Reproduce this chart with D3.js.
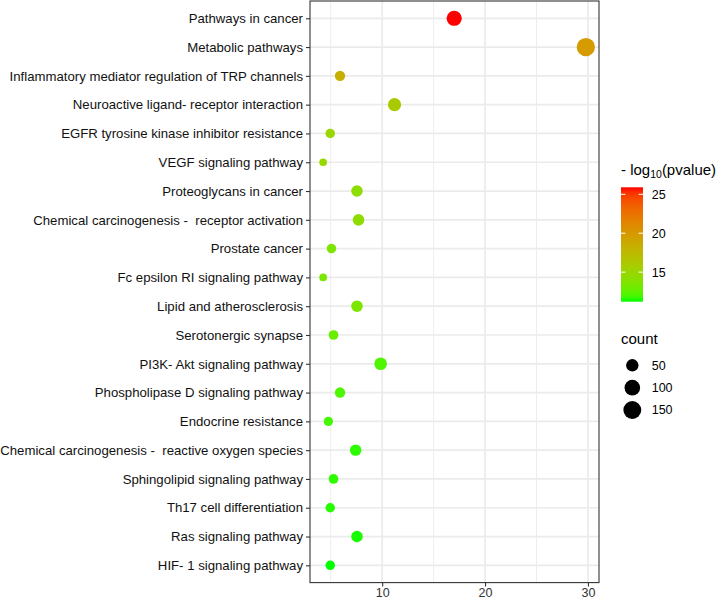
<!DOCTYPE html>
<html>
<head>
<meta charset="utf-8">
<script src="https://cdn.jsdelivr.net/npm/d3@7"></script>
<style>
  body { margin: 0; background: #fff; }
  svg { display: block; font-family: "Liberation Sans", Arial, sans-serif; }
  .ylab text { white-space: pre; }
</style>
</head>
<body>
<svg id="chart" width="720" height="599"></svg>
<script>
const pathways = [
  "Pathways in cancer",
  "Metabolic pathways",
  "Inflammatory mediator regulation of TRP channels",
  "Neuroactive ligand- receptor interaction",
  "EGFR tyrosine kinase inhibitor resistance",
  "VEGF signaling pathway",
  "Proteoglycans in cancer",
  "Chemical carcinogenesis -  receptor activation",
  "Prostate cancer",
  "Fc epsilon RI signaling pathway",
  "Lipid and atherosclerosis",
  "Serotonergic synapse",
  "PI3K- Akt signaling pathway",
  "Phospholipase D signaling pathway",
  "Endocrine resistance",
  "Chemical carcinogenesis -  reactive oxygen species",
  "Sphingolipid signaling pathway",
  "Th17 cell differentiation",
  "Ras signaling pathway",
  "HIF- 1 signaling pathway"
];
const ratio = [17.0, 29.8, 5.9, 11.2, 4.95, 4.26, 7.55, 7.7, 5.07, 4.26,
               7.55, 5.27, 9.85, 5.9, 4.77, 7.42, 5.27, 4.95, 7.55, 4.95];
const counts = [92, 161, 32, 60, 27, 23, 41, 42, 27, 23,
                41, 28, 53, 32, 26, 40, 28, 27, 41, 27];
const logp = [25.9, 19.8, 18.3, 16.0, 15.0, 14.8, 14.3, 14.3, 13.6, 13.4,
              13.5, 12.8, 12.1, 12.0, 11.8, 11.5, 11.5, 11.4, 11.3, 11.2];
const xTicks = [10, 20, 30];
const xMinor = [5, 15, 25];
const colorTicks = [15, 20, 25];
const sizeBreaks = [50, 100, 150];

const data = pathways.map((name, i) => ({name, x: ratio[i], count: counts[i], p: logp[i]}));

const panel = {left: 310, right: 599, top: 1, bottom: 582.6};

const svg = d3.select("#chart");

// ggplot-style 5% expansion on x
const [xlo, xhi] = d3.extent(ratio);
const pad = (xhi - xlo) * 0.05;
const x = d3.scaleLinear().domain([xlo - pad, xhi + pad]).range([panel.left, panel.right]);
const y = d3.scalePoint().domain(pathways).range([panel.top, panel.bottom]).padding(0.6);

const color = d3.scaleLinear().domain(d3.extent(logp))
  .range(["#00ff00", "#ff0000"]).interpolate(d3.interpolateLab);

// area scale like scale_size: diameter from sqrt of rescaled count
const sizeT = d3.scaleLinear().domain(d3.extent(counts)).range([0, 1]);
const diam = d3.scaleLinear().domain([0, 1]).range([7.7, 18.3]);
const radius = c => diam(Math.sqrt(Math.max(0, sizeT(c)))) / 2;

// grid
const grid = svg.append("g");
grid.selectAll(".minor").data(xMinor).enter().append("line")
  .attr("x1", d => x(d)).attr("x2", d => x(d))
  .attr("y1", panel.top).attr("y2", panel.bottom)
  .attr("stroke", "#ebebeb").attr("stroke-width", 0.9);
grid.selectAll(".major").data(xTicks).enter().append("line")
  .attr("x1", d => x(d)).attr("x2", d => x(d))
  .attr("y1", panel.top).attr("y2", panel.bottom)
  .attr("stroke", "#ebebeb").attr("stroke-width", 1.7);
grid.selectAll(".hz").data(pathways).enter().append("line")
  .attr("x1", panel.left).attr("x2", panel.right)
  .attr("y1", d => y(d)).attr("y2", d => y(d))
  .attr("stroke", "#ebebeb").attr("stroke-width", 1.7);

// points
svg.append("g").selectAll("circle").data(data).enter().append("circle")
  .attr("cx", d => x(d.x)).attr("cy", d => y(d.name))
  .attr("r", d => radius(d.count))
  .attr("fill", d => color(d.p));

// panel border
svg.append("rect")
  .attr("x", panel.left).attr("y", panel.top)
  .attr("width", panel.right - panel.left).attr("height", panel.bottom - panel.top)
  .attr("fill", "none").attr("stroke", "#333").attr("stroke-width", 1.1);

// y axis
const yAxis = svg.append("g").attr("class", "ylab").attr("transform", `translate(${panel.left},0)`)
  .call(d3.axisLeft(y).tickSize(4).tickPadding(3));
yAxis.select(".domain").remove();
yAxis.selectAll("line").attr("stroke", "#333").attr("stroke-width", 1.1);
yAxis.selectAll("text").attr("fill", "#111").style("font-size", "13.2px")
  .style("font-family", "Liberation Sans, Arial, sans-serif");

// x axis
const xAxis = svg.append("g").attr("transform", `translate(0,${panel.bottom})`)
  .call(d3.axisBottom(x).tickValues(xTicks).tickSize(4).tickPadding(2));
xAxis.select(".domain").remove();
xAxis.selectAll("line").attr("stroke", "#333").attr("stroke-width", 1.1);
xAxis.selectAll("text").attr("fill", "#333").style("font-size", "12.5px")
  .style("font-family", "Liberation Sans, Arial, sans-serif");

// colour legend
const cb = {x: 621, y: 187.3, w: 22, h: 114.4};
const cbScale = d3.scaleLinear().domain(color.domain()).range([cb.y + cb.h, cb.y]);
const title = svg.append("text").attr("x", 621).attr("y", 175)
  .style("font-size", "15px").attr("fill", "#000");
title.append("tspan").text("- log");
title.append("tspan").attr("dy", 3).style("font-size", "10.5px").text("10");
title.append("tspan").attr("dy", -3).text("(pvalue)");

const grad = svg.append("defs").append("linearGradient")
  .attr("id", "cbar").attr("x1", 0).attr("y1", 1).attr("x2", 0).attr("y2", 0);
d3.range(0, 21).forEach(i => {
  const t = i / 20;
  const v = color.domain()[0] + t * (color.domain()[1] - color.domain()[0]);
  grad.append("stop").attr("offset", t).attr("stop-color", color(v));
});
svg.append("rect").attr("x", cb.x).attr("y", cb.y).attr("width", cb.w).attr("height", cb.h)
  .attr("fill", "url(#cbar)");
const cbt = svg.append("g").selectAll("g").data(colorTicks).enter().append("g");
cbt.append("line").attr("x1", cb.x).attr("x2", cb.x + 4.4)
  .attr("y1", d => cbScale(d)).attr("y2", d => cbScale(d))
  .attr("stroke", "#fff").attr("stroke-width", 1);
cbt.append("line").attr("x1", cb.x + cb.w - 4.4).attr("x2", cb.x + cb.w)
  .attr("y1", d => cbScale(d)).attr("y2", d => cbScale(d))
  .attr("stroke", "#fff").attr("stroke-width", 1);
cbt.append("text").attr("x", 651.7).attr("y", d => cbScale(d)).attr("dy", "0.35em")
  .style("font-size", "12.5px").attr("fill", "#000").text(d => d);

// size legend
svg.append("text").attr("x", 621).attr("y", 344).style("font-size", "15px")
  .attr("fill", "#000").text("count");
const sizeY = d3.scalePoint().domain(sizeBreaks).range([365.3, 410]);
const sl = svg.append("g").selectAll("g").data(sizeBreaks).enter().append("g");
sl.append("circle").attr("cx", 632.3).attr("cy", d => sizeY(d)).attr("r", d => radius(d))
  .attr("fill", "#000");
sl.append("text").attr("x", 651.7).attr("y", d => sizeY(d)).attr("dy", "0.35em")
  .style("font-size", "12.5px").attr("fill", "#000").text(d => d);
</script>
</body>
</html>
